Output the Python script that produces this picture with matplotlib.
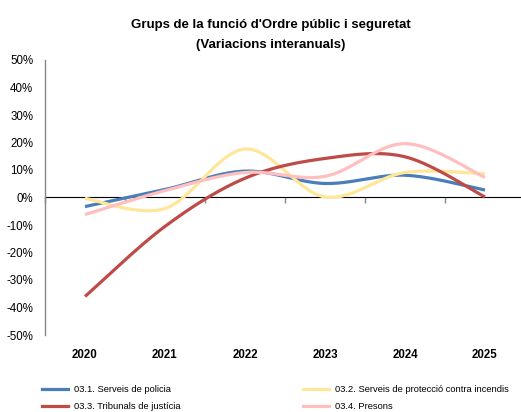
import numpy as np
import matplotlib
matplotlib.use("Agg")
import matplotlib.pyplot as plt
from matplotlib import font_manager
from matplotlib.lines import Line2D

years = ["2020", "2021", "2022", "2023", "2024", "2025"]
policia = [-3.3, 2.9, 9.6, 5.1, 8.1, 2.7]
incendis = [-0.3, -4.0, 17.6, 0.2, 9.1, 8.6]
tribunals = [-36.0, -10.5, 7.0, 14.2, 14.8, 0.2]
presons = [-6.2, 2.5, 9.1, 7.7, 19.6, 7.3]

labels = ["03.1. Serveis de policia", "03.2. Serveis de protecció contra incendis",
          "03.3. Tribunals de justícia", "03.4. Presons"]
colors = ["#4A7EBB", "#FFE699", "#BE4B48", "#FFBFBF"]

names = {f.name for f in font_manager.fontManager.ttflist}
if "Liberation Sans Narrow" in names:
    fam = ["Liberation Sans Narrow", "DejaVu Sans"]
    k = 1.0
else:
    fam = ["Liberation Sans", "DejaVu Sans"]
    k = 0.83
plt.rcParams["font.family"] = fam


def smooth(xs, ys, n=40):
    """Excel-like smoothed line (cubic Bezier, Catmull-Rom control points)."""
    P = np.column_stack([xs, ys]).astype(float)
    m = len(P)
    out = []
    for i in range(m - 1):
        p0 = P[i - 1] if i > 0 else P[i]
        p1 = P[i]
        p2 = P[i + 1]
        p3 = P[i + 2] if i + 2 < m else P[i + 1]
        c1 = p1 + (p2 - p0) / 6.0
        c2 = p2 - (p3 - p1) / 6.0
        t = np.linspace(0, 1, n)[:, None]
        seg = ((1 - t) ** 3) * p1 + 3 * ((1 - t) ** 2) * t * c1 + 3 * (1 - t) * t ** 2 * c2 + t ** 3 * p2
        out.append(seg if i == 0 else seg[1:])
    arr = np.vstack(out)
    return arr[:, 0], arr[:, 1]


W, H = 521, 412
fig = plt.figure(figsize=(W / 100, H / 100), dpi=100)
ax = fig.add_axes([45 / W, 1 - 335 / H, 480 / W, 275 / H])

x = np.arange(len(years))
for series, c in zip([policia, incendis, tribunals, presons], colors):
    sx, sy = smooth(x, series)
    ax.plot(sx, sy, color=c, lw=2.3, solid_capstyle="butt", zorder=3)

ax.set_xlim(-0.5, len(years) - 0.5)
ax.set_ylim(-50, 50)
ax.set_yticks(np.arange(-50, 51, 10))
ax.set_yticklabels([f"{v}%" for v in range(-50, 51, 10)], fontsize=10 * k)
ax.tick_params(axis="y", length=0, pad=8.5)
ax.set_xticks(x)
ax.set_xticklabels(years, fontsize=10 * k, fontweight="bold")
ax.tick_params(axis="x", length=0, pad=10)

for s in ["top", "right", "bottom"]:
    ax.spines[s].set_visible(False)
ax.spines["left"].set_color("#868686")
ax.spines["left"].set_linewidth(1.0)

sec = ax.secondary_xaxis(0.5)
sec.set_xticks(np.arange(-0.5, len(years) + 0.5, 1.0))
sec.set_xticklabels([])
sec.tick_params(axis="x", length=4, width=1, color="#868686", direction="in")
sec.spines["bottom"].set_color("#868686")
sec.spines["bottom"].set_linewidth(1.2)

fig.text(271 / W, 1 - 25 / H, "Grups de la funció d'Ordre públic i seguretat",
         ha="center", va="center", fontsize=11.5 * k, fontweight="bold")
fig.text(271 / W, 1 - 45 / H, "(Variacions interanuals)",
         ha="center", va="center", fontsize=11.5 * k, fontweight="bold")

handles = [Line2D([], [], color=c, lw=2.3) for c in colors]
common = dict(loc="upper left", frameon=False, fontsize=8.1 * k, handlelength=2.8,
              handletextpad=0.6, labelspacing=0.85, borderaxespad=0, borderpad=0)
leg1 = fig.legend([handles[0], handles[2]], [labels[0], labels[2]],
                  bbox_to_anchor=(42 / W, 1 - 385 / H), **common)
leg2 = fig.legend([handles[1], handles[3]], [labels[1], labels[3]],
                  bbox_to_anchor=(303 / W, 1 - 385 / H), **common)

fig.savefig("out.png", dpi=100)
